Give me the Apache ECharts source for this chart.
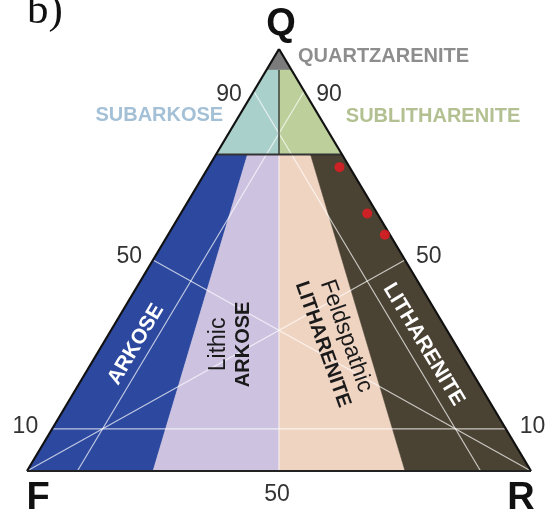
<!DOCTYPE html>
<html><head><meta charset="utf-8">
<script src="https://cdn.jsdelivr.net/npm/echarts@6/dist/echarts.min.js"></script>
<style>html,body{margin:0;padding:0;background:#fff;}#c{width:547px;height:521px;}</style>
</head><body><div id="c"></div>
<script>
// ---- Data ----
const vertexNames = ['Q', 'F', 'R'];
// Folk classification thresholds (Q %, and F/(F+R) ratios)
const quartzareniteMinQ = 95;
const subMinQ = 75;
const ratioSplits = [1, 0.75, 0.5, 0.25, 0];
const regionNames = ['QUARTZARENITE', 'SUBARKOSE', 'SUBLITHARENITE', 'ARKOSE', ['Lithic', 'ARKOSE'], ['Feldspathic', 'LITHARENITE'], 'LITHARENITE'];
// Samples (percent)
const sampleQ = [72, 61, 56];
const sampleF = [2, 2, 1];
const sampleR = [26, 37, 43];
// Tick labels on the sides (Q %), and base
const sideTickValues = [90, 50, 10];
const sideTickLabels = ['90', '50', '10'];
const baseTickLabels = ['50'];
const panelLabel = 'b)';

// ---- Styling ----
const regionColors = ['#7b7b7b', '#a9d0cb', '#bdd09b', '#2c489f', '#cdc3e1', '#f0d4c2', '#4a4232'];
const FAMILY = '"Liberation Sans", Arial, sans-serif';
const FONT = FAMILY;

// ternary -> cartesian (x: 0..1 from F to R, y: 0..1 Q)
function tern(q, f, r) { const s = q + f + r; return [(r + q / 2) / s, q / s]; }
function atQ(q, k) { return tern(q, (100 - q) * k, (100 - q) * (1 - k)); }
function band(q0, q1, k0, k1) { return [atQ(q1, k0), atQ(q1, k1), atQ(q0, k1), atQ(q0, k0)]; }

const regionPolys = [
  [tern(100, 0, 0), atQ(quartzareniteMinQ, 1), atQ(quartzareniteMinQ, 0)],
  band(subMinQ, quartzareniteMinQ, 1, 0.5),
  band(subMinQ, quartzareniteMinQ, 0.5, 0),
  band(0, subMinQ, ratioSplits[0], ratioSplits[1]),
  band(0, subMinQ, ratioSplits[1], ratioSplits[2]),
  band(0, subMinQ, ratioSplits[2], ratioSplits[3]),
  band(0, subMinQ, ratioSplits[3], ratioSplits[4])
];

// grid / reference lines: [from, to, colour, width]
const W = 'rgba(255,255,255,0.7)';
const lineDefs = [
  [tern(0, 100, 0), tern(50, 0, 50), W, 1.2],
  [tern(0, 0, 100), tern(50, 50, 0), W, 1.2],
  [atQ(subMinQ, 0.5), tern(0, 50, 50), 'rgba(255,255,255,0.6)', 1.2],
  [tern(90, 10, 0), tern(0, 10, 90), W, 1.2],
  [tern(90, 0, 10), tern(0, 90, 10), W, 1.2],
  [tern(10, 90, 0), tern(10, 0, 90), W, 1.2],
  [atQ(quartzareniteMinQ, 0.5), atQ(subMinQ, 0.5), '#2a2a2a', 1.3],
  [atQ(subMinQ, 1), atQ(subMinQ, 0), '#333', 2],
  [tern(100, 0, 0), tern(0, 100, 0), '#111', 2.2],
  [tern(100, 0, 0), tern(0, 0, 100), '#111', 2.2],
  [tern(0, 100, 0), tern(0, 0, 100), '#222', 2.2]
];

// text labels
const textDefs = [];
const vAnchors = [tern(100, 0, 0), tern(0, 100, 0), tern(0, 0, 100)];
const vOff = [[2, -24], [11, 28], [-10, 28]];
vertexNames.forEach((n, i) => {
  textDefs.push({ p: vAnchors[i], text: n, dx: vOff[i][0], dy: vOff[i][1], font: 'bold 38px ' + FONT, fill: '#111', align: 'center' });
});
const tickDy = [3, -3, -2];
const tickDx = [12, 11, 14];
sideTickValues.forEach((v, i) => {
  textDefs.push({ p: tern(v, 100 - v, 0), text: sideTickLabels[i], dx: -tickDx[i], dy: tickDy[i], font: '23px ' + FONT, fill: '#333', align: 'right' });
  textDefs.push({ p: tern(v, 0, 100 - v), text: sideTickLabels[i], dx: tickDx[i], dy: tickDy[i], font: '23px ' + FONT, fill: '#333', align: 'left' });
});
textDefs.push({ p: tern(0, 50, 50), text: baseTickLabels[0], dx: -2, dy: 24, font: '23px ' + FONT, fill: '#333', align: 'center' });
textDefs.push({ p: tern(100, 0, 0), text: regionNames[0], dx: 19, dy: 7, font: 'bold 20px ' + FONT, fill: '#8d8d8d', align: 'left' });
textDefs.push({ p: tern(85, 15, 0), text: regionNames[1], dx: -18, dy: 3, font: 'bold 20px ' + FONT, fill: '#a4c0d6', align: 'right' });
textDefs.push({ p: tern(85, 0, 15), text: regionNames[2], dx: 29, dy: 4, font: 'bold 20px ' + FONT, fill: '#b3c192', align: 'left' });
textDefs.push({ p: tern(30, 63, 7), text: regionNames[3], dx: -2, dy: 0, font: 'bold 21px ' + FONT, fill: '#ffffff', align: 'center', rot: 59.3 });
textDefs.push({ p: tern(30, 44.5, 25.5), two: regionNames[4], dx: 0, dy: 0, fill: '#1a1a1a', align: 'center', rot: 90 });
textDefs.push({ p: tern(31, 23.5, 45.5), two: regionNames[5], dx: 0, dy: 0, fill: '#1a1a1a', align: 'center', rot: -70.5 });
textDefs.push({ p: tern(30, 6.3, 63.7), text: regionNames[6], dx: 0, dy: 0, font: 'bold 21px ' + FONT, fill: '#ffffff', align: 'center', rot: -59 });

const chart = echarts.init(document.getElementById('c'), null, { renderer: 'canvas' });
chart.setOption({
  animation: false,
  backgroundColor: '#fff',
  grid: { left: 27, right: 16, top: 49, bottom: 50 },
  xAxis: { type: 'value', min: 0, max: 1, show: false },
  yAxis: { type: 'value', min: 0, max: 1, show: false },
  graphic: [{ type: 'text', left: 27, top: -10, style: { text: panelLabel, font: '43px "Liberation Serif", "Times New Roman", serif', fill: '#111' } }],
  series: [
    {
      type: 'custom', silent: true, z: 1,
      data: regionPolys.map((p, i) => [p[0][0], p[0][1], i]),
      renderItem: function (params, api) {
        const i = api.value(2);
        return { type: 'polygon', shape: { points: regionPolys[i].map(pt => api.coord(pt)) }, style: { fill: regionColors[i], stroke: regionColors[i], lineWidth: 0.5 } };
      }
    },
    {
      type: 'custom', silent: true, z: 2,
      data: lineDefs.map((l, i) => [l[0][0], l[0][1], i]),
      renderItem: function (params, api) {
        const l = lineDefs[api.value(2)];
        return { type: 'polyline', shape: { points: [api.coord(l[0]), api.coord(l[1])] }, style: { stroke: l[2], lineWidth: l[3], fill: null } };
      }
    },
    {
      type: 'scatter', z: 4, symbolSize: 10,
      itemStyle: { color: '#ee1a22' },
      data: sampleQ.map((q, i) => tern(q, sampleF[i], sampleR[i]))
    },
    {
      type: 'custom', silent: true, z: 5,
      data: textDefs.map((t, i) => [t.p[0], t.p[1], i]),
      renderItem: function (params, api) {
        const t = textDefs[api.value(2)];
        const c = api.coord(t.p);
        const style = t.two
          ? { text: '{a|' + t.two[0] + '}\n{b|' + t.two[1] + '}', fill: t.fill, textAlign: 'center', textVerticalAlign: 'middle',
              rich: {
                a: { fontSize: 23, fontFamily: FAMILY, fontWeight: 'normal', fill: t.fill, lineHeight: 25 },
                b: { fontSize: 20, fontFamily: FAMILY, fontWeight: 'bold', fill: t.fill, lineHeight: 25 }
              } }
          : { text: t.text, font: t.font, fill: t.fill, textAlign: t.align, textVerticalAlign: 'middle' };
        return { type: 'text', x: c[0] + t.dx, y: c[1] + t.dy, rotation: (t.rot || 0) * Math.PI / 180, style: style };
      }
    }
  ]
});
</script>
</body></html>
